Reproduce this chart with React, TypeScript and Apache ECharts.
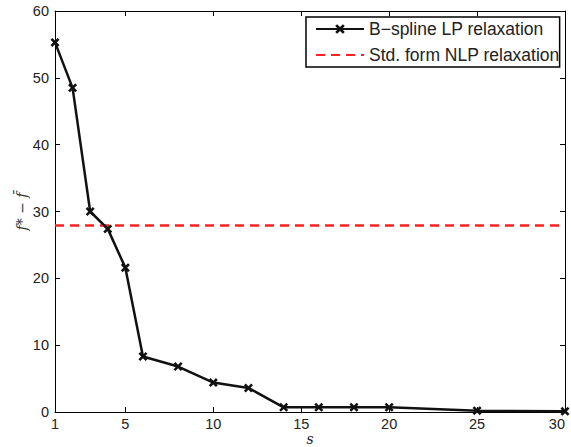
import React, { useEffect, useRef } from "react";
import * as echarts from "echarts";

const sValues = [1, 2, 3, 4, 5, 6, 8, 10, 12, 14, 16, 18, 20, 25, 30];
const bsplineGap = [55.3, 48.5, 30.0, 27.4, 21.6, 8.3, 6.8, 4.4, 3.6, 0.7, 0.7, 0.7, 0.7, 0.2, 0.1];
const nlpGap = 27.9;
const xTicks = [1, 5, 10, 15, 20, 25, 30];
const yTicks = [0, 10, 20, 30, 40, 50, 60];
const seriesNames = ["B\u2212spline LP relaxation", "Std. form NLP relaxation"];

const xMarker =
  "path://M2,0 L5,3 L8,0 L10,2 L7,5 L10,8 L8,10 L5,7 L2,10 L0,8 L3,5 L0,2 Z";

export default function App() {
  const ref = useRef<HTMLDivElement>(null);
  useEffect(() => {
    if (!ref.current) return;
    const chart = echarts.init(ref.current, undefined, { renderer: "svg" });
    const font = "'Liberation Sans', Arial, Helvetica, sans-serif";
    const labelStyle = { color: "#222", fontSize: 14.5, fontFamily: font };
    const tick = { show: true, inside: true, length: 5, lineStyle: { color: "#000", width: 1 } };
    const serif = "'DejaVu Serif', 'Liberation Serif', serif";
    chart.setOption({
      animation: false,
      backgroundColor: "#fff",
      grid: { left: 55, right: 6, top: 11, bottom: 35, containLabel: false, outerBoundsMode: "none" },
      legend: {
        orient: "vertical",
        left: 306,
        top: 17,
        data: [
          { name: seriesNames[0] },
          { name: seriesNames[1], itemStyle: { color: "rgba(0,0,0,0)", borderWidth: 0 } },
        ],
        backgroundColor: "#fff",
        borderColor: "#000",
        borderWidth: 1.5,
        padding: [3, 0, 3, 9],
        itemWidth: 48,
        itemHeight: 12,
        itemGap: 8,
        textStyle: { color: "#222", fontSize: 17.5, fontFamily: font },
      },
      xAxis: [
        {
          type: "value",
          min: 1,
          max: 30,
          name: "s",
          nameLocation: "middle",
          nameGap: 20,
          nameMoveOverlap: false,
          nameTextStyle: { fontStyle: "italic", fontFamily: serif, fontSize: 14, lineHeight: 13, color: "#222" },
          axisLine: { show: true, lineStyle: { color: "#000", width: 1 } },
          axisTick: { ...tick, customValues: xTicks },
          axisLabel: { ...labelStyle, lineHeight: 14, margin: 5, customValues: xTicks, alignMaxLabel: "right" },
          splitLine: { show: false },
        },
        {
          type: "value",
          position: "top",
          min: 1,
          max: 30,
          axisLine: { show: true, onZero: false, lineStyle: { color: "#000", width: 1 } },
          axisTick: { ...tick, customValues: xTicks },
          axisLabel: { show: false },
          splitLine: { show: false },
        },
      ],
      yAxis: [
        {
          type: "value",
          min: 0,
          max: 60,
          interval: 10,
          name: "f* \u2212 f\u0304",
          nameLocation: "middle",
          nameGap: 26,
          nameMoveOverlap: false,
          nameRotate: 90,
          nameTextStyle: { fontStyle: "italic", fontFamily: serif, fontSize: 14, color: "#333" },
          axisLine: { show: true, lineStyle: { color: "#000", width: 1 } },
          axisTick: tick,
          axisLabel: { ...labelStyle, margin: 6, customValues: yTicks },
          splitLine: { show: false },
        },
        {
          type: "value",
          position: "right",
          min: 0,
          max: 60,
          interval: 10,
          axisLine: { show: true, onZero: false, lineStyle: { color: "#000", width: 1 } },
          axisTick: tick,
          axisLabel: { show: false },
          splitLine: { show: false },
        },
      ],
      series: [
        {
          name: seriesNames[0],
          type: "line",
          data: sValues.map((s, i) => [s, bsplineGap[i]]),
          symbol: xMarker,
          symbolSize: 9,
          showAllSymbol: true,
          clip: false,
          lineStyle: { color: "#111", width: 2.5 },
          itemStyle: { color: "#111" },
          z: 3,
        },
        {
          name: seriesNames[1],
          type: "line",
          data: [
            [sValues[0], nlpGap],
            [sValues[sValues.length - 1], nlpGap],
          ],
          symbol: "none",
          lineStyle: { color: "#ff2020", width: 2.5, type: [9, 6] },
          itemStyle: { color: "#ff2020" },
          z: 2,
        },
      ],
    });
    return () => chart.dispose();
  }, []);
  return <div ref={ref} style={{ width: 571, height: 447, position: "absolute", left: 0, top: 0 }} />;
}
